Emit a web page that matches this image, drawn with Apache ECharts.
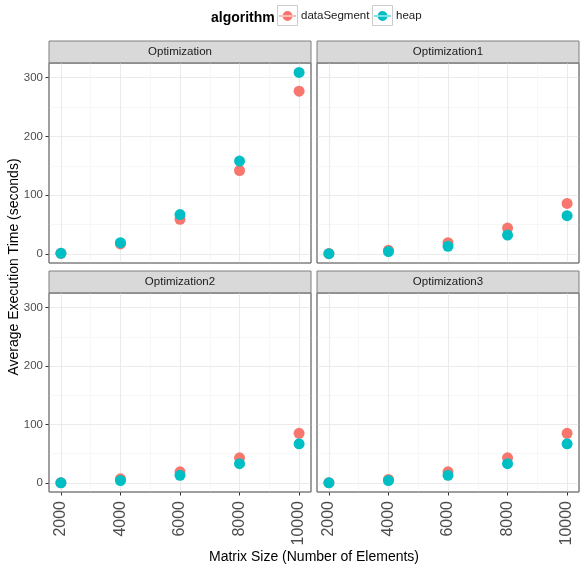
<!DOCTYPE html>
<html>
<head>
<meta charset="utf-8">
<script src="https://cdn.jsdelivr.net/npm/echarts@6/dist/echarts.min.js"></script>
<style>
  html, body { margin: 0; padding: 0; background: #fff; }
  #chart { width: 583px; height: 566px; }
</style>
</head>
<body>
<div id="chart"></div>
<script>
// matrix size vs execution time, faceted by optimization
var sizes = [2000, 4000, 6000, 8000, 10000];
var panelNames = ['Optimization', 'Optimization1', 'Optimization2', 'Optimization3'];
var algorithms = ['dataSegment', 'heap'];

var opt0DataSegment = [1, 17, 59, 142, 277];
var opt0Heap        = [1, 19, 67, 158, 309];
var opt1DataSegment = [0.5, 6, 19, 44, 86];
var opt1Heap        = [0.3, 4, 13, 32, 65];
var opt2DataSegment = [0.5, 7, 19, 43, 85];
var opt2Heap        = [0.3, 4, 13, 33, 67];
var opt3DataSegment = [0.5, 6, 19, 43, 85];
var opt3Heap        = [0.3, 4, 13, 33, 67];

var xMajor = [2000, 4000, 6000, 8000, 10000];
var xMinor = [3000, 5000, 7000, 9000];
var yMajor = [0, 100, 200, 300];
var yMinor = [50, 150, 250];

var panelData = [
    [opt0DataSegment, opt0Heap],
    [opt1DataSegment, opt1Heap],
    [opt2DataSegment, opt2Heap],
    [opt3DataSegment, opt3Heap]
];

var colors = ['#F8766D', '#00BFC4'];
var font = 'Liberation Sans, Arial, Helvetica, sans-serif';
var xMin = 1600, xMax = 10400, yMin = -15.5, yMax = 325;

// panel boxes (plot area, strip sits on top)
var boxes = [
    {left: 49,  top: 63,  width: 262, height: 200},
    {left: 317, top: 63,  width: 262, height: 200},
    {left: 49,  top: 293, width: 262, height: 199},
    {left: 317, top: 293, width: 262, height: 199}
];
var stripH = 22;

var myChart = echarts.init(document.getElementById('chart'));

var grids = [], xAxes = [], yAxes = [], series = [], graphics = [];

boxes.forEach(function(b, i){
    var isLeft = (i % 2 === 0), isBottom = (i >= 2);
    grids.push({
        left: b.left, top: b.top, width: b.width, height: b.height,
        show: true, backgroundColor: '#fff',
        borderColor: '#7f7f7f', borderWidth: 1, z: 0
    });
    // major x axis
    xAxes.push({
        type: 'value', gridIndex: i, min: xMin, max: xMax,
        axisLine: {show: false, onZero: false},
        axisTick: {show: isBottom, inside: false, customValues: xMajor, length: 3.5,
                   lineStyle: {color: '#333'}},
        axisLabel: {show: isBottom, customValues: xMajor, rotate: 90,
                    fontSize: 16, color: '#4D4D4D', fontFamily: font, margin: 9,
                    formatter: function(v){ return String(v); }},
        splitLine: {show: true, lineStyle: {color: '#EBEBEB', width: 1.1}}
    });
    // minor x gridlines
    xAxes.push({
        type: 'value', gridIndex: i, min: xMin, max: xMax,
        axisLine: {show: false, onZero: false},
        axisTick: {show: false, customValues: xMinor},
        axisLabel: {show: false, customValues: xMinor},
        splitLine: {show: true, lineStyle: {color: '#F4F4F4', width: 0.7}}
    });
    yAxes.push({
        type: 'value', gridIndex: i, min: yMin, max: yMax,
        axisLine: {show: false, onZero: false},
        axisTick: {show: isLeft, inside: false, customValues: yMajor, length: 3.5,
                   lineStyle: {color: '#333'}},
        axisLabel: {show: isLeft, customValues: yMajor, fontSize: 11.5,
                    color: '#4D4D4D', fontFamily: font, margin: 6},
        splitLine: {show: true, lineStyle: {color: '#EBEBEB', width: 1.1}}
    });
    yAxes.push({
        type: 'value', gridIndex: i, min: yMin, max: yMax,
        axisLine: {show: false, onZero: false},
        axisTick: {show: false, customValues: yMinor},
        axisLabel: {show: false, customValues: yMinor},
        splitLine: {show: true, lineStyle: {color: '#F4F4F4', width: 0.7}}
    });

    algorithms.forEach(function(alg, k){
        series.push({
            name: alg,
            type: 'scatter',
            xAxisIndex: i * 2,
            yAxisIndex: i * 2,
            symbol: 'circle',
            symbolSize: 11,
            itemStyle: {color: colors[k], opacity: 1},
            z: 3 + k,
            data: sizes.map(function(s, j){ return [s, panelData[i][k][j]]; })
        });
    });

    // facet strip
    graphics.push({
        type: 'rect',
        shape: {x: b.left, y: b.top - stripH, width: b.width, height: stripH},
        style: {fill: '#D9D9D9', stroke: '#7f7f7f', lineWidth: 1}
    });
    graphics.push({
        type: 'text',
        x: b.left + b.width / 2, y: b.top - stripH / 2,
        style: {text: panelNames[i], fill: '#1A1A1A', font: '11.5px ' + font,
                textAlign: 'center', textVerticalAlign: 'middle'}
    });
});

// panel borders drawn over gridlines
boxes.forEach(function(b){
    graphics.push({
        type: 'rect', z: 10,
        shape: {x: b.left, y: b.top, width: b.width, height: b.height},
        style: {fill: null, stroke: '#7f7f7f', lineWidth: 1}
    });
});

// axis titles
graphics.push({
    type: 'text', x: 314, y: 557,
    style: {text: 'Matrix Size (Number of Elements)', fill: '#000', font: '14px ' + font,
            textAlign: 'center', textVerticalAlign: 'middle'}
});
graphics.push({
    type: 'text', x: 14, y: 267, rotation: Math.PI / 2,
    style: {text: 'Average Execution Time (seconds)', fill: '#000', font: '14px ' + font,
            textAlign: 'center', textVerticalAlign: 'middle'}
});
// legend key boxes
var keyLeft = [277.5, 372.5];
keyLeft.forEach(function(x){
    graphics.push({
        type: 'rect',
        shape: {x: x, y: 5.5, width: 20, height: 20},
        style: {fill: '#fff', stroke: '#CCCCCC', lineWidth: 1}
    });
});

var keyIcon = 'path://M0,9.4h17.3v1.2H0z M3.65,10a5,5 0 1,0 10,0a5,5 0 1,0 -10,0z';
var legends = algorithms.map(function(alg, k){
    return {
        data: [alg],
        left: keyLeft[k] + 1.5, top: 10,
        padding: 0,
        itemWidth: 17, itemHeight: 20,
        icon: keyIcon,
        textStyle: {fontSize: 11.5, color: '#1A1A1A', fontFamily: font},
        z: 20
    };
});

option = {
    animation: false,
    backgroundColor: '#fff',
    title: {
        text: 'algorithm', left: 206, top: 6,
        textStyle: {fontSize: 14, fontWeight: 'bold', color: '#000', fontFamily: font}
    },
    legend: legends,
    grid: grids,
    xAxis: xAxes,
    yAxis: yAxes,
    graphic: graphics,
    series: series
};
myChart.setOption(option);
</script>
</body>
</html>
